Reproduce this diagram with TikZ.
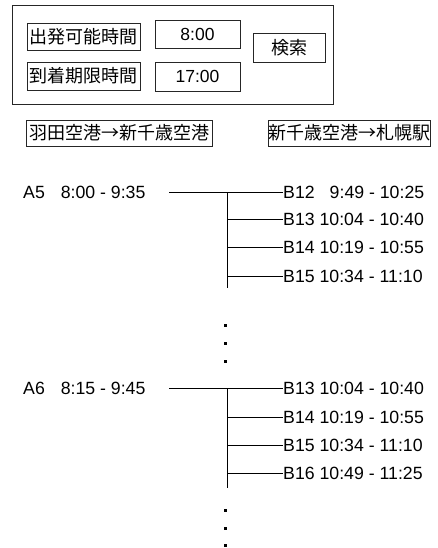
\documentclass[tikz,border=0pt]{standalone}
\usepackage{fontspec}
\setmainfont{Liberation Sans}
\newfontfamily\jp{Noto Sans CJK JP}
\begin{document}
\begin{tikzpicture}[x=1pt,y=-1pt,
  box/.style={draw=black!85,line width=0.9pt,inner sep=0pt,anchor=center},
  jbox/.style={box,font=\jp\fontsize{18}{20}\selectfont},
  tbox/.style={box,font=\fontsize{17.5}{20}\selectfont},
  row/.style={anchor=west,inner sep=0pt,font=\fontsize{17.7}{20}\selectfont},
  conn/.style={draw=black,line width=0.9pt},
  dot/.style={fill=black,inner sep=0pt,minimum size=3pt}]
\useasboundingbox (0,0) rectangle (437,548);
% top panel
\node[box,minimum width=321pt,minimum height=99pt] (panel) at (172.5,54.5) {};
\node[jbox,minimum width=113pt,minimum height=27pt] (dep) at (83.5,36.5) {出発可能時間};
\node[jbox,minimum width=113pt,minimum height=28pt] (arr) at (83.5,76) {到着期限時間};
\node[tbox,minimum width=85pt,minimum height=28pt] (t1) at (197.5,34) {8:00};
\node[tbox,minimum width=85pt,minimum height=29pt] (t2) at (197.5,76.5) {17:00};
\node[jbox,minimum width=72pt,minimum height=29pt] (search) at (289,47.5) {検索};
% routes
\node[jbox,minimum width=186pt,minimum height=26pt] (r1) at (119,133) {羽田空港→新千歳空港};
\node[jbox,minimum width=161pt,minimum height=26pt] (r2) at (349.5,133) {新千歳空港→札幌駅};
% group A5
\node[row] (a5) at (23,192) {A5\hspace{0.9em}8:00 - 9:35};
\node[row] (b12a) at (283,192) {B12\hspace{0.85em}9:49 - 10:25};
\node[row] (b13a) at (283,219) {B13 10:04 - 10:40};
\node[row] (b14a) at (283,247) {B14 10:19 - 10:55};
\node[row] (b15a) at (283,276) {B15 10:34 - 11:10};
\coordinate (sa) at (169,192);
\coordinate (ja) at (227,192);
\coordinate (ea) at (227,288);
\draw[conn] (sa) -- (b12a.west);
\draw[conn] (ja) -- (ea);
\draw[conn] (ja |- b13a.west) -- (b13a.west);
\draw[conn] (ja |- b14a.west) -- (b14a.west);
\draw[conn] (ja |- b15a.west) -- (b15a.west);
% dots
\node[dot] (d1) at (225,325) {};
\node[dot] (d2) at (225,343) {};
\node[dot] (d3) at (225,361) {};
% group A6
\node[row] (a6) at (23,388) {A6\hspace{0.9em}8:15 - 9:45};
\node[row] (b13b) at (283,388) {B13 10:04 - 10:40};
\node[row] (b14b) at (283,417) {B14 10:19 - 10:55};
\node[row] (b15b) at (283,445) {B15 10:34 - 11:10};
\node[row] (b16b) at (283,473) {B16 10:49 - 11:25};
\coordinate (sb) at (169,388);
\coordinate (jb) at (227,388);
\coordinate (eb) at (227,488);
\draw[conn] (sb) -- (b13b.west);
\draw[conn] (jb) -- (eb);
\draw[conn] (jb |- b14b.west) -- (b14b.west);
\draw[conn] (jb |- b15b.west) -- (b15b.west);
\draw[conn] (jb |- b16b.west) -- (b16b.west);
\node[dot] (d4) at (225,510) {};
\node[dot] (d5) at (225,528) {};
\node[dot] (d6) at (225,545) {};
\end{tikzpicture}
\end{document}
